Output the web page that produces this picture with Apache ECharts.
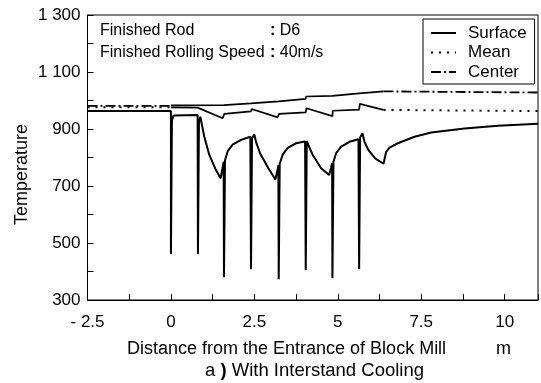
<!DOCTYPE html>
<html><head><meta charset="utf-8">
<script src="https://cdn.jsdelivr.net/npm/echarts@6/dist/echarts.min.js"></script>
<style>html,body{margin:0;padding:0;background:#fff}#c{width:541px;height:383px}</style>
</head><body><div id="c"></div>
<script>
// ---- data ----
const xTickValues = [-2.5, 0, 2.5, 5, 7.5, 10];
const xTickLabels = ['- 2.5', '0', '2.5', '5', '7.5', '10'];
const yTickValues = [300, 500, 700, 900, 1100, 1300];
const yTickLabels = ['300', '500', '700', '900', '1 100', '1 300'];
const seriesNames = ['Surface', 'Mean', 'Center'];

const surface = [
  [-2.5, 963], [0, 963], [0, 461], [0.03, 930], [0.08, 947], [0.8, 949],
  [0.81, 461], [0.84, 925], [0.88, 943], [0.92, 920], [1.0, 873], [1.15, 809], [1.35, 756], [1.49, 727], [1.55, 765], [1.58, 785],
  [1.59, 380], [1.62, 790], [1.7, 822], [1.85, 845], [2.1, 862], [2.38, 873],
  [2.40, 408], [2.43, 868], [2.50, 881], [2.55, 855], [2.67, 815], [2.92, 762], [3.13, 723], [3.2, 760], [3.22, 774],
  [3.23, 373], [3.26, 778], [3.35, 810], [3.5, 834], [3.75, 850], [4.02, 856],
  [4.04, 405], [4.07, 858], [4.1, 864], [4.15, 835], [4.25, 809], [4.5, 762], [4.74, 739], [4.8, 765], [4.83, 780],
  [4.84, 376], [4.87, 785], [4.95, 815], [5.1, 838], [5.35, 855], [5.62, 864],
  [5.64, 408], [5.67, 870], [5.74, 885], [5.8, 855], [5.92, 826], [6.12, 797], [6.37, 778],
  [6.45, 820], [6.55, 835], [6.8, 850], [7.3, 873], [7.8, 888], [8.8, 902], [9.8, 911], [11, 918]
];
const meanBefore = [[-2.5, 976], [0, 976]];
const meanInMill = [
  [0, 976], [0.8, 975], [1.55, 938], [1.59, 938], [1.6, 953], [2.4, 962], [2.42, 970],
  [3.2, 941], [3.23, 941], [3.24, 953], [4.04, 958], [4.06, 973], [4.84, 945], [4.85, 964],
  [5.64, 968], [5.66, 988], [6.37, 967]
];
const meanAfter = [[6.37, 967], [11, 963]];
const centerBefore = [[-2.5, 981], [0, 981]];
const centerInMill = [
  [0, 983], [1.59, 984], [1.6, 990], [2.4, 990], [2.41, 996], [3.23, 997], [3.24, 1004],
  [4.04, 1006], [4.05, 1014], [4.84, 1016], [4.85, 1023], [5.64, 1025], [5.65, 1032], [6.37, 1032]
];
const centerAfter = [[6.37, 1032], [11, 1028]];

// ---- chart ----
const FONT = 'Liberation Sans';
function pickLabel(values, labels, v) {
  for (let i = 0; i < values.length; i++) if (Math.abs(values[i] - v) < 1e-6) return labels[i];
  return '';
}
const solidThick = { color: '#000', width: 2, type: 'solid' };
const solid = { color: '#000', width: 1.7, type: 'solid' };
const dotted = { color: '#000', width: 2, type: [2, 6] };
const dashDot = { color: '#000', width: 1.8, type: [10, 3, 2, 3] };
function line(name, data, style) {
  return { name, type: 'line', data, symbol: 'none', showSymbol: false, lineStyle: style,
           itemStyle: { color: '#000', opacity: 0 }, animation: false, silent: true, z: 3 };
}
const txt = (size, extra) => Object.assign({ fill: '#000', font: size + 'px "Liberation Sans"' }, extra || {});
const colonRich = { c: { fontFamily: FONT, fontSize: 16, fontWeight: 'bold', fill: '#000' } };
const parenRich = { p: { fontFamily: FONT, fontSize: 18.5, fontWeight: 'bold', fill: '#000' } };
const chart = echarts.init(document.getElementById('c'), null, { renderer: 'canvas' });
chart.setOption({
  animation: false,
  backgroundColor: '#fff',
  grid: { left: 87.5, top: 15, right: 1, bottom: 83, show: true, borderColor: '#000', borderWidth: 1 },
  xAxis: {
    type: 'value', min: -2.5, max: 11, interval: 1.25,
    axisLine: { onZero: false, lineStyle: { color: '#000', width: 1 } },
    axisTick: { inside: true, length: 6, lineStyle: { color: '#000' } },
    splitLine: { show: false },
    axisLabel: { color: '#000', fontFamily: FONT, fontSize: 17, margin: 14,
      formatter: v => pickLabel(xTickValues, xTickLabels, v) }
  },
  yAxis: {
    type: 'value', min: 300, max: 1300, interval: 100,
    axisLine: { show: true, onZero: false, lineStyle: { color: '#000', width: 1 } },
    axisTick: { show: true, inside: true, length: 6, lineStyle: { color: '#000' } },
    splitLine: { show: false },
    axisLabel: { color: '#000', fontFamily: FONT, fontSize: 17, margin: 7,
      formatter: v => pickLabel(yTickValues, yTickLabels, v) }
  },
  legend: {
    data: seriesNames, orient: 'vertical', left: 423, top: 19,
    padding: [5.5, 8, 3.5, 7], itemGap: 2.5, itemWidth: 25, itemHeight: 12,
    borderColor: '#000', borderWidth: 1, borderRadius: 0, backgroundColor: '#fff',
    itemStyle: { opacity: 0 },
    textStyle: { color: '#000', fontFamily: FONT, fontSize: 17, lineHeight: 17, padding: [0, 0, 0, 7] },
    selectedMode: false
  },
  graphic: [
    { type: 'text', left: 100, top: 23, style: txt(16, { text: 'Finished Rod' }) },
    { type: 'text', left: 100, top: 45, style: txt(16, { text: 'Finished Rolling Speed' }) },
    { type: 'text', left: 270, top: 23, style: txt(16, { text: '{c|:} D6', rich: colonRich }) },
    { type: 'text', left: 270, top: 45, style: txt(16, { text: '{c|:} 40m/s', rich: colonRich }) },
    { type: 'text', left: 127, top: 340, style: txt(18, { text: 'Distance from the Entrance of Block Mill' }) },
    { type: 'text', left: 496, top: 340, style: txt(18, { text: 'm' }) },
    { type: 'text', left: 205, top: 361, style: txt(18.5, { text: 'a {p|)} With Interstand Cooling', rich: parenRich }) },
    { type: 'text', rotation: Math.PI / 2, x: 13, y: 225, style: txt(18, { text: 'Temperature' }) }
  ],
  series: [
    line('Surface', surface, solidThick),
    line('Mean', meanBefore, dotted),
    line('Mean', meanInMill, solid),
    line('Mean', meanAfter, dotted),
    line('Center', centerBefore, dashDot),
    line('Center', centerInMill, solid),
    line('Center', centerAfter, dashDot)
  ]
});
</script></body></html>
